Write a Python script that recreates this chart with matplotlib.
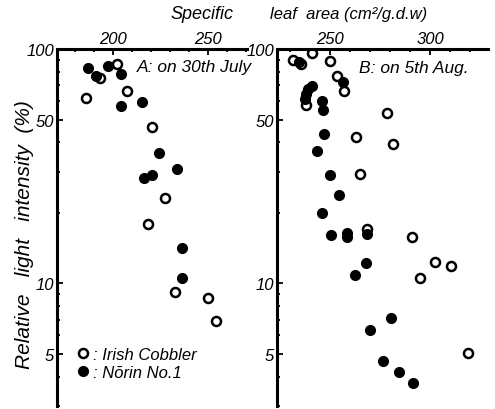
import matplotlib
matplotlib.use("Agg")
import matplotlib.pyplot as plt
from matplotlib.ticker import LogLocator, FixedLocator, MultipleLocator, NullFormatter

plt.rcParams['font.family'] = ['Liberation Sans', 'DejaVu Sans']
plt.rcParams['font.style'] = 'italic'

# ---------- data ----------
# A: 30th July
a_norin_x = [187.0, 191.0, 197.5, 204.0, 204.0, 215.4, 224.3, 216.3, 220.7, 233.5, 236.1, 236.1]
a_norin_y = [83, 77, 85, 78, 57.4, 59.7, 36, 28.2, 29.1, 30.9, 14.1, 10.5]
a_irish_x = [202.2, 193.1, 185.8, 207.2, 220.3, 227.3, 218.6, 232.6, 250.1, 254.0]
a_irish_y = [86.1, 75.3, 61.7, 66.5, 46.7, 23.2, 18.0, 9.2, 8.7, 6.9]

# B: 5th Aug.
b_norin_x = [234.5, 240.9, 239.2, 237.9, 237.5, 245.9, 246.7, 256.4, 247.2, 243.3, 250.0, 254.7,
             245.8, 250.3, 258.3, 258.3, 268.7, 267.8, 262.5, 280.5, 270.0, 276.7, 284.7, 291.7]
b_norin_y = [88, 69.8, 67.6, 64.4, 61.3, 60.3, 54.7, 72.6, 43.2, 36.6, 28.9, 23.9,
             20.0, 16.1, 16.4, 15.8, 16.3, 12.2, 10.9, 7.1, 6.3, 4.65, 4.18, 3.75]
b_irish_x = [231.7, 235.5, 240.8, 250.0, 253.3, 257.0, 237.8, 278.3, 281.3, 263.0, 265.0,
             268.3, 291.0, 302.7, 310.3, 295.0, 318.8]
b_irish_y = [89.8, 86.4, 95.9, 89.2, 76.5, 66.1, 57.8, 53.3, 39.4, 42.1, 29.4,
             17.1, 15.8, 12.4, 11.9, 10.6, 5.04]

y_ticks = [5, 10, 50, 100]
a_xticks = [200, 250]
b_xticks = [250, 300]

fig = plt.figure(figsize=(4.95, 4.10), dpi=100)
ax_a = fig.add_axes([0.1152, 0.0073, 0.3838, 0.8707])
ax_b = fig.add_axes([0.5596, 0.0073, 0.4263, 0.8707])


def style_axis(ax, xlim, xticks):
    ax.set_yscale('log')
    ax.set_ylim(3.0, 100)
    ax.set_xlim(*xlim)
    for s in ['right', 'bottom']:
        ax.spines[s].set_visible(False)
    for s in ['left', 'top']:
        ax.spines[s].set_linewidth(2.2)
    ax.xaxis.tick_top()
    ax.xaxis.set_major_locator(FixedLocator(xticks))
    ax.xaxis.set_minor_locator(MultipleLocator(10))
    ax.yaxis.set_major_locator(FixedLocator(y_ticks))
    ax.yaxis.set_minor_locator(LogLocator(subs=range(2, 10)))
    ax.yaxis.set_minor_formatter(NullFormatter())
    ax.set_yticklabels([str(t) for t in y_ticks])
    ax.tick_params(which='both', direction='in', width=1.3, labelsize=12, pad=2)
    ax.tick_params(which='major', length=4)
    ax.tick_params(which='minor', length=2.5)


def draw(ax, xo, yo, xf, yf):
    ax.plot(xo, yo, 'o', ms=6.5, mfc='white', mec='black', mew=1.8, ls='none', label=': Irish Cobbler')
    ax.plot(xf, yf, 'o', ms=7, mfc='black', mec='black', ls='none', label=': Nōrin No.1')


draw(ax_a, a_irish_x, a_irish_y, a_norin_x, a_norin_y)
draw(ax_b, b_irish_x, b_irish_y, b_norin_x, b_norin_y)
style_axis(ax_a, (170.5, 270.5), a_xticks)
style_axis(ax_b, (223.5, 329), b_xticks)

ax_a.text(0.42, 0.952, 'A: on 30th July', transform=ax_a.transAxes, fontsize=12.5, va='center')
ax_b.text(0.39, 0.947, 'B: on 5th Aug.', transform=ax_b.transAxes, fontsize=12.5, va='center')

ax_a.legend(loc='lower left', bbox_to_anchor=(0.03, 0.04), frameon=False, fontsize=12,
            handletextpad=0.1, handlelength=1.0, labelspacing=0.2, borderpad=0.2)

fig.text(0.345, 0.965, 'Specific', fontsize=13, ha='left', va='center')
fig.text(0.545, 0.965, 'leaf  area (cm²/g.d.w)', fontsize=12, ha='left', va='center')
fig.text(0.05, 0.428, 'Relative   light   intensity  (%)', fontsize=15, rotation=90,
         ha='center', va='center')

fig.savefig('out.png', dpi=100)
